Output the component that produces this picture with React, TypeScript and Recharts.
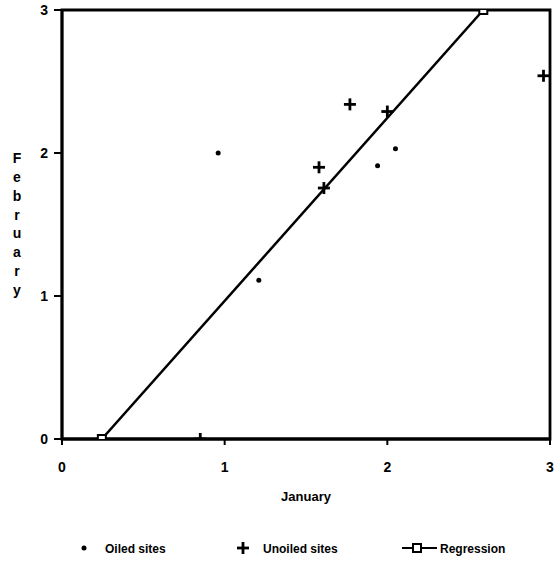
import React from 'react';
import {
  ScatterChart,
  Scatter,
  XAxis,
  YAxis,
  ReferenceArea,
  Legend,
} from 'recharts';

const oiledSites = [
  { x: 0.96, y: 2.0 },
  { x: 1.21, y: 1.11 },
  { x: 1.94, y: 1.91 },
  { x: 2.05, y: 2.03 },
];

const unoiledSites = [
  { x: 0.85, y: 0.0 },
  { x: 1.58, y: 1.9 },
  { x: 1.61, y: 1.755 },
  { x: 1.77, y: 2.34 },
  { x: 2.0, y: 2.29 },
  { x: 2.96, y: 2.54 },
];

const regression = [
  { x: 0.245, y: 0.0 },
  { x: 2.59, y: 3.0 },
];

const xTicks = [0, 1, 2, 3];
const yTicks = [0, 1, 2, 3];
const xLabel = 'January';
const yLabel = 'February';
const seriesNames = ['Oiled sites', 'Unoiled sites', 'Regression'];

const FONT = '"Liberation Sans", Arial, Helvetica, sans-serif';

const DotShape = (p: any) => <circle cx={p.cx} cy={p.cy} r={2.5} fill="#000" />;

const PlusShape = (p: any) => (
  <g>
    <line x1={p.cx - 6} y1={p.cy} x2={p.cx + 6} y2={p.cy} stroke="#000" strokeWidth={2.8} />
    <line x1={p.cx} y1={p.cy - 6} x2={p.cx} y2={p.cy + 6} stroke="#000" strokeWidth={2.8} />
  </g>
);

const SquareShape = (p: any) => (
  <rect x={p.cx - 4} y={p.cy - 4} width={8} height={8} fill="#fff" stroke="#000" strokeWidth={2} />
);

const renderLegend = () => {
  const items = [
    { icon: <circle cx={84} cy={10} r={2.5} fill="#000" />, tx: 105, name: seriesNames[0] },
    {
      icon: (
        <g>
          <line x1={237} y1={10} x2={249} y2={10} stroke="#000" strokeWidth={2.8} />
          <line x1={243} y1={4} x2={243} y2={16} stroke="#000" strokeWidth={2.8} />
        </g>
      ),
      tx: 263,
      name: seriesNames[1],
    },
    {
      icon: (
        <g>
          <line x1={402} y1={10} x2={437} y2={10} stroke="#000" strokeWidth={2.2} />
          <rect x={413} y={6} width={8} height={8} fill="#fff" stroke="#000" strokeWidth={2} />
        </g>
      ),
      tx: 440,
      name: seriesNames[2],
    },
  ];
  return (
    <svg width={554} height={22} style={{ display: 'block' }}>
      {items.map((it, i) => (
        <g key={i}>
          {it.icon}
          <text x={it.tx} y={14.5} fontFamily={FONT} fontWeight="bold" fontSize={12} fill="#000">
            {it.name}
          </text>
        </g>
      ))}
    </svg>
  );
};

const XLabel = (props: any) => {
  const vb = props.viewBox || { x: 62, y: 439, width: 488 };
  return (
    <text
      x={vb.x + vb.width / 2}
      y={vb.y + 62}
      textAnchor="middle"
      fontFamily={FONT}
      fontWeight="bold"
      fontSize={13}
      fill="#000"
    >
      {xLabel}
    </text>
  );
};

const YLabel = (props: any) => {
  const vb = props.viewBox || { x: 0, y: 10, width: 62, height: 429 };
  const letters = yLabel.split('');
  const step = 18.9;
  const startY = vb.y + vb.height / 2 - ((letters.length - 1) * step) / 2 + 4.5;
  return (
    <text fontFamily={FONT} fontWeight="bold" fontSize={14} fill="#000" textAnchor="middle">
      {letters.map((c, i) => (
        <tspan key={i} x={17} y={startY + i * step}>
          {c}
        </tspan>
      ))}
    </text>
  );
};

export default function App() {
  return (
    <div style={{ position: 'absolute', left: 0, top: 0, width: 554, height: 562, background: '#fff' }}>
      <ScatterChart
        width={554}
        height={562}
        margin={{ top: 10, right: 4, bottom: 53, left: 0 }}
      >
        <XAxis
          type="number"
          dataKey="x"
          domain={[0, 3]}
          ticks={xTicks}
          interval={0}
          allowDataOverflow
          height={70}
          tickSize={6}
          tickMargin={17}
          axisLine={{ stroke: '#000', strokeWidth: 2.8 }}
          tickLine={{ stroke: '#000', strokeWidth: 2 }}
          tick={{ fill: '#000', fontSize: 14, fontWeight: 'bold', fontFamily: FONT }}
          label={<XLabel />}
        />
        <YAxis
          type="number"
          dataKey="y"
          domain={[0, 3]}
          ticks={yTicks}
          interval={0}
          allowDataOverflow
          width={62}
          tickSize={8}
          tickMargin={6}
          axisLine={{ stroke: '#000', strokeWidth: 2.8 }}
          tickLine={{ stroke: '#000', strokeWidth: 2 }}
          tick={{ fill: '#000', fontSize: 14, fontWeight: 'bold', fontFamily: FONT }}
          label={<YLabel />}
        />
        <ReferenceArea x1={0} x2={3} y1={0} y2={3} fill="none" stroke="#000" strokeWidth={2.8} />
        <Scatter
          name={seriesNames[2]}
          data={regression}
          line={{ stroke: '#000', strokeWidth: 2.5 }}
          shape={SquareShape}
          isAnimationActive={false}
        />
        <Scatter name={seriesNames[0]} data={oiledSites} shape={DotShape} isAnimationActive={false} />
        <Scatter name={seriesNames[1]} data={unoiledSites} shape={PlusShape} isAnimationActive={false} />
        <Legend
          layout="horizontal"
          verticalAlign="middle"
          align="center"
          wrapperStyle={{ top: 538, left: 0, width: 554, height: 22 }}
          content={renderLegend}
        />
      </ScatterChart>
    </div>
  );
}
